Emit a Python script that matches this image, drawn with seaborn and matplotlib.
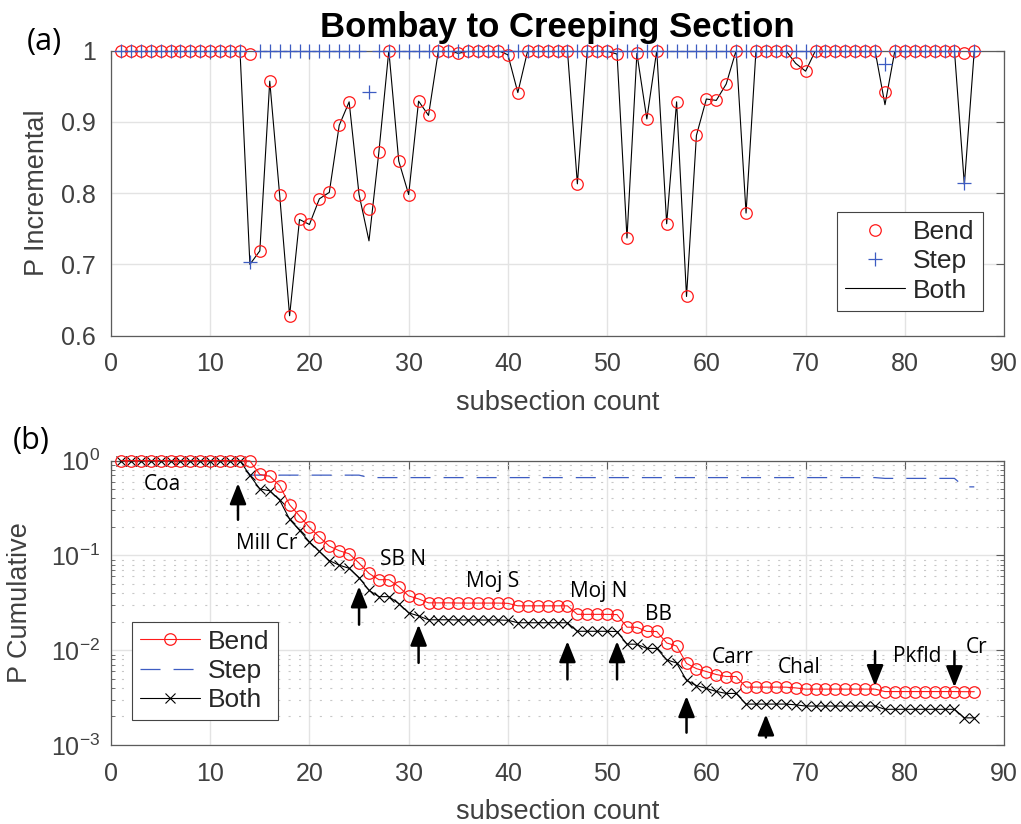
import numpy as np
import pandas as pd
import matplotlib
matplotlib.use("Agg")
import matplotlib.pyplot as plt
import seaborn as sns
from matplotlib.lines import Line2D
from matplotlib.patches import ArrowStyle
from matplotlib.ticker import LogLocator, NullFormatter, FixedLocator, FixedFormatter

# ---------------- data ----------------
subsection = list(range(1, 88))

bend_inc = [1.0] * 13 + [
    0.995, 0.719, 0.957, 0.797, 0.628, 0.763, 0.756, 0.792, 0.801, 0.895,   # 14-23
    0.928, 0.798, 0.778, 0.858, 1.0, 0.845, 0.798, 0.929, 0.909, 1.0,       # 24-33
    1.0, 0.996, 0.999, 1.0, 1.0, 1.0, 0.994, 0.941,                         # 34-41
    1.0, 1.0, 1.0, 1.0, 1.0,                                                # 42-46
    0.813, 1.0, 1.0, 0.999, 0.995, 0.737, 0.996, 0.904, 1.0, 0.757,         # 47-56
    0.928, 0.655, 0.881, 0.932, 0.930, 0.953, 1.0, 0.772,                   # 57-64
    1.0, 1.0, 1.0, 1.0, 0.982, 0.971,                                       # 65-70
    1.0, 1.0, 1.0, 1.0, 1.0, 1.0, 1.0, 0.942,                               # 71-78
    1.0, 1.0, 1.0, 1.0, 1.0, 1.0, 1.0, 0.997, 1.0]                          # 79-87

step_inc = [1.0] * 13 + [0.704] + [1.0] * 11 + [0.942] + [1.0] * 51 + [0.981] + [1.0] * 7 + [0.814, 1.0]

both_inc = [1.0] * 13 + [
    0.700, 0.719, 0.957, 0.797, 0.628, 0.763, 0.756, 0.792, 0.801, 0.895,
    0.928, 0.798, 0.733, 0.858, 1.0, 0.845, 0.798, 0.929, 0.909, 1.0,
    1.0, 0.996, 0.999, 1.0, 1.0, 1.0, 0.994, 0.941,
    1.0, 1.0, 1.0, 1.0, 1.0,
    0.813, 1.0, 1.0, 0.999, 0.995, 0.737, 0.996, 0.904, 1.0, 0.757,
    0.928, 0.655, 0.881, 0.932, 0.930, 0.953, 1.0, 0.772,
    1.0, 1.0, 1.0, 1.0, 0.982, 0.971,
    1.0, 1.0, 1.0, 1.0, 1.0, 1.0, 1.0, 0.924,
    1.0, 1.0, 1.0, 1.0, 1.0, 1.0, 1.0, 0.812, 1.0]

# cumulative probabilities (running product of the incremental values)
bend_cum = np.cumprod(bend_inc)
step_cum = np.cumprod(step_inc)
both_cum = np.cumprod(both_inc)

site_names = ["Coa", "Mill Cr", "SB N", "Moj S", "Moj N", "BB", "Carr", "Chal", "Pkfld", "Cr"]
site_x = [5.2, 15.7, 29.4, 38.5, 49.1, 55.2, 62.6, 69.3, 81.2, 87.2]
site_y = [0.555, 0.135, 0.0902, 0.0532, 0.0418, 0.0238, 0.00832, 0.00653, 0.00865, 0.0106]

arrow_x = [12.8, 25, 31, 46, 51, 58, 66, 77, 85]
arrow_tail = [0.238, 0.0186, 0.00736, 0.00492, 0.00492, 0.00135, 0.00120, 0.00977, 0.00977]
arrow_head = [0.578, 0.0472, 0.0186, 0.01245, 0.01245, 0.00328, 0.00210, 0.00418, 0.00407]

# ---------------- style ----------------
sns.set_style("white")
plt.rcParams["font.family"] = ["Liberation Sans", "DejaVu Sans"]
plt.rcParams["mathtext.fontset"] = "custom"
plt.rcParams["mathtext.rm"] = "Liberation Sans"
plt.rcParams["mathtext.it"] = "Liberation Sans"
plt.rcParams["lines.scale_dashes"] = False

RED = "#ff1a1a"
BLUE = "#3d5cc2"
SPINE = "#5c5c5c"
TXT = "#404040"
TICK_FS = 18
LAB_FS = 19.5
LEG_FS = 19
MS_O = 8.3
MS_P = 9.5
MS_X = 7

fig = plt.figure(figsize=(10.21, 8.24), dpi=100)
axA = fig.add_axes([0.1087, 0.5926, 0.8747, 0.3461])
axB = fig.add_axes([0.1087, 0.0959, 0.8747, 0.3450])

df = pd.DataFrame({"x": subsection, "bend": bend_inc, "step": step_inc, "both": both_inc,
                   "bend_c": bend_cum, "step_c": step_cum, "both_c": both_cum})

leg_kw = dict(loc="upper left", borderaxespad=0, fontsize=LEG_FS, handlelength=2.3,
              handletextpad=0.3, labelspacing=0.2, borderpad=0.3, fancybox=False,
              framealpha=1, edgecolor="#444444")

# ---------------- panel (a) ----------------
sns.lineplot(data=df, x="x", y="both", ax=axA, color="k", lw=0.8, estimator=None,
             sort=False, legend=False, zorder=2)
sns.lineplot(data=df, x="x", y="bend", ax=axA, color=RED, linestyle="", marker="o",
             ms=MS_O, mew=0.9, mfc="none", mec=RED, estimator=None, sort=False,
             legend=False, clip_on=False, zorder=3)
sns.lineplot(data=df, x="x", y="step", ax=axA, color=BLUE, linestyle="", marker="+",
             ms=MS_P, mew=0.9, mec=BLUE, estimator=None, sort=False, legend=False,
             clip_on=False, zorder=4)

axA.set_xlim(0, 90)
axA.set_ylim(0.6, 1.0)
axA.xaxis.set_major_locator(FixedLocator(list(range(0, 91, 10))))
axA.yaxis.set_major_locator(FixedLocator([0.6, 0.7, 0.8, 0.9, 1.0]))
axA.yaxis.set_major_formatter(FixedFormatter(["0.6", "0.7", "0.8", "0.9", "1"]))
axA.grid(True, which="major", color="#e3e3e3", lw=1.0)
axA.set_axisbelow(True)
axA.set_xlabel("subsection count", fontsize=LAB_FS, color=TXT)
axA.set_ylabel("P Incremental", fontsize=LAB_FS, color=TXT)
axA.yaxis.set_label_coords(-0.068, 0.5)
axA.xaxis.set_label_coords(0.5, -0.19)

legA = axA.legend(handles=[
    Line2D([], [], ls="none", marker="o", mfc="none", mec=RED, ms=MS_O, mew=0.9, label="Bend"),
    Line2D([], [], ls="none", marker="+", color=BLUE, ms=MS_P, mew=0.9, label="Step"),
    Line2D([], [], color="k", lw=0.8, label="Both")],
    bbox_to_anchor=(0.8127, 0.433), **leg_kw)
legA.get_frame().set_linewidth(0.8)

# ---------------- panel (b) ----------------
axB.set_yscale("log")
sns.lineplot(data=df, x="x", y="step_c", ax=axB, color=BLUE, lw=0.9,
             linestyle=(0, (14.4, 9.4)), estimator=None, sort=False, legend=False, zorder=2)
sns.lineplot(data=df, x="x", y="both_c", ax=axB, color="k", lw=0.8, marker="x",
             ms=MS_X, mew=0.8, mec="k", estimator=None, sort=False, legend=False,
             clip_on=False, zorder=3)
sns.lineplot(data=df, x="x", y="bend_c", ax=axB, color=RED, lw=0.8, marker="o",
             ms=MS_O, mew=0.9, mfc="none", mec=RED, estimator=None, sort=False,
             legend=False, clip_on=False, zorder=4)

axB.set_xlim(0, 90)
axB.set_ylim(1e-3, 1.0)
axB.xaxis.set_major_locator(FixedLocator(list(range(0, 91, 10))))
axB.yaxis.set_major_locator(LogLocator(base=10, numticks=10))
axB.yaxis.set_minor_locator(LogLocator(base=10, subs=np.arange(2, 10), numticks=20))
axB.yaxis.set_minor_formatter(NullFormatter())
axB.grid(True, which="major", color="#e3e3e3", lw=1.0)
axB.yaxis.grid(True, which="minor", color="#c8c8c8", lw=0.8, linestyle=(0, (1.5, 6)))
axB.set_axisbelow(True)
axB.set_xlabel("subsection count", fontsize=LAB_FS, color=TXT)
axB.set_ylabel("P Cumulative", fontsize=LAB_FS, color=TXT)
axB.yaxis.set_label_coords(-0.0873, 0.5)
axB.xaxis.set_label_coords(0.5, -0.19)

legB = axB.legend(handles=[
    Line2D([], [], color=RED, lw=0.8, marker="o", mfc="none", mec=RED, ms=MS_O, mew=0.9, label="Bend"),
    Line2D([], [], color=BLUE, lw=0.9, linestyle=(0, (14.4, 9.4)), label="Step"),
    Line2D([], [], color="k", lw=0.8, marker="x", ms=MS_X, mew=0.8, label="Both")],
    bbox_to_anchor=(0.0232, 0.4337), **leg_kw)
legB.get_frame().set_linewidth(0.8)

for name, sx, sy in zip(site_names, site_x, site_y):
    axB.text(sx, sy, name, ha="center", va="center", fontsize=15,
             family=["Open Sans", "DejaVu Sans"], color="k", zorder=6)

astyle = ArrowStyle("-|>", head_length=0.6, head_width=0.24)
for ax_, t, h in zip(arrow_x, arrow_tail, arrow_head):
    axB.annotate("", xy=(ax_, h), xytext=(ax_, t),
                 arrowprops=dict(arrowstyle=astyle, color="k", lw=1.8,
                                 mutation_scale=21, shrinkA=0, shrinkB=0), zorder=6)

# ---------------- common axes styling ----------------
for ax in (axA, axB):
    for sp in ax.spines.values():
        sp.set_visible(True)
        sp.set_color(SPINE)
        sp.set_linewidth(0.9)
    ax.tick_params(which="major", direction="in", top=True, right=True, length=6,
                   width=0.8, color=SPINE, labelcolor=TXT, labelsize=TICK_FS, pad=12)
    ax.tick_params(which="minor", direction="in", left=True, right=True, length=3,
                   width=0.6, color=SPINE)
axA.tick_params(axis="y", which="major", pad=11)
axB.tick_params(axis="y", which="major", pad=8)

fig.text(557 / 1021, 1 - 37 / 824, "Bombay to Creeping Section", ha="center",
         va="baseline", fontsize=25, fontweight="bold", color="k")
fig.text(44 / 1021, 1 - 42 / 824, "(a)", ha="center", va="center", fontsize=22,
         family=["Open Sans", "DejaVu Sans"], color="k")
fig.text(31 / 1021, 1 - 441 / 824, "(b)", ha="center", va="center", fontsize=22,
         family=["Open Sans", "DejaVu Sans"], color="k")

fig.savefig("out.png", dpi=100)
